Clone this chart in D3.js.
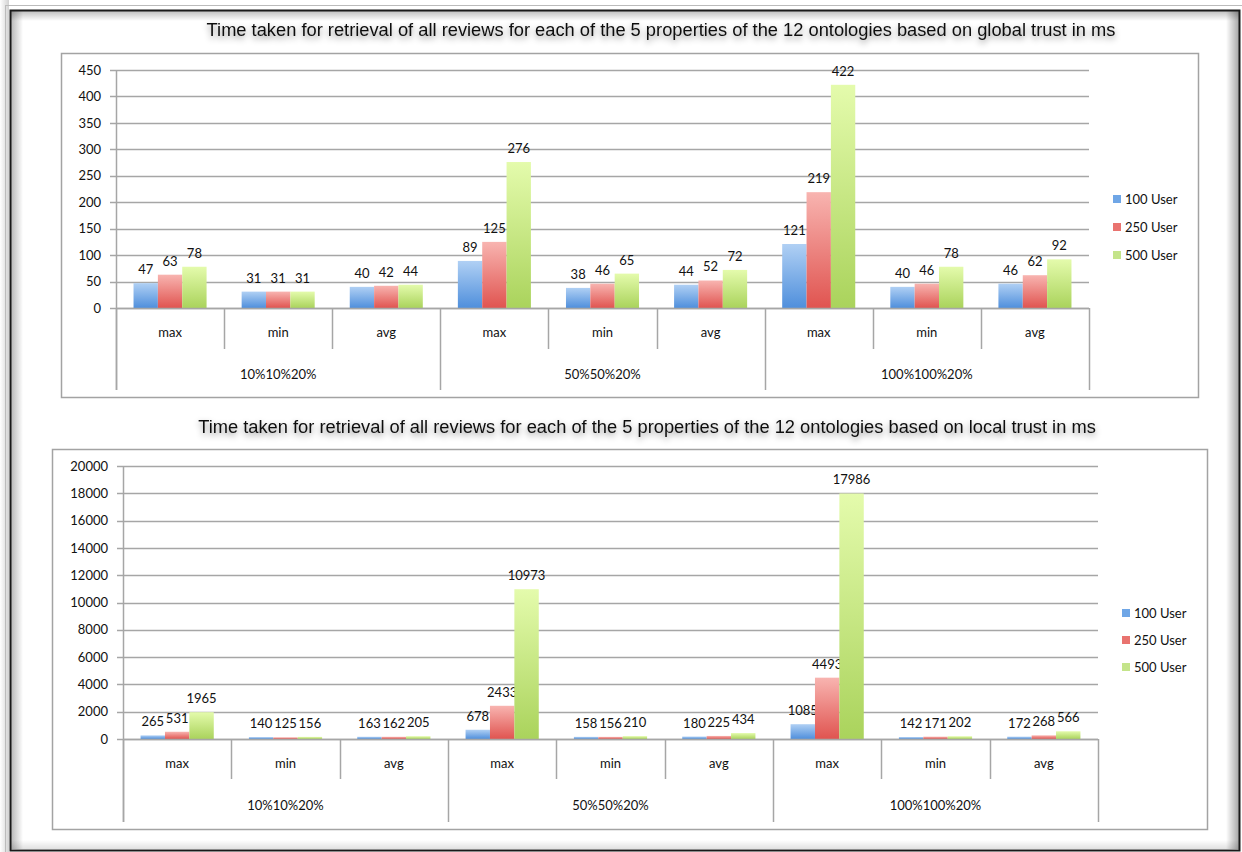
<!DOCTYPE html>
<html><head><meta charset="utf-8">
<script src="https://cdn.jsdelivr.net/npm/d3@7"></script>
<style>
html,body{margin:0;padding:0;background:#fff;}
svg{display:block;}
</style></head>
<body>
<svg id="c" width="1242" height="852"></svg>
<script>
// ---- data ----
const categories = ["max","min","avg","max","min","avg","max","min","avg"];
const groups = ["10%10%20%","50%50%20%","100%100%20%"];
const seriesNames = ["100 User","250 User","500 User"];

const globalTitle = "Time taken for retrieval of all reviews for each of the 5 properties of the 12 ontologies based on global trust in ms";
const global100 = [47,31,40,89,38,44,121,40,46];
const global250 = [63,31,42,125,46,52,219,46,62];
const global500 = [78,31,44,276,65,72,422,78,92];
const globalTicks = [0,50,100,150,200,250,300,350,400,450];

const localTitle = "Time taken for retrieval of all reviews for each of the 5 properties of the 12 ontologies based on local trust in ms";
const local100 = [265,140,163,678,158,180,1085,142,172];
const local250 = [531,125,162,2433,156,225,4493,171,268];
const local500 = [1965,156,205,10973,210,434,17986,202,566];
const localTicks = [0,2000,4000,6000,8000,10000,12000,14000,16000,18000,20000];

const svg = d3.select("#c");
const defs = svg.append("defs");
const grads = [["gBlue","#b0d0f4","#4f8fdc"],["gRed","#f8b4b0","#e05450"],["gGreen","#e4fbac","#aad35c"]];
grads.forEach(([id,a,b])=>{
  const g = defs.append("linearGradient").attr("id",id).attr("x1",0).attr("y1",0).attr("x2",0).attr("y2",1);
  g.append("stop").attr("offset","0%").attr("stop-color",a);
  g.append("stop").attr("offset","100%").attr("stop-color",b);
});
const legendColors = ["#6fa6e6","#e9736f","#c4e48a"];
const f = defs.append("filter").attr("id","tshadow").attr("x","-10%").attr("y","-60%").attr("width","120%").attr("height","260%");
f.append("feDropShadow").attr("dx",0).attr("dy",3).attr("stdDeviation",3).attr("flood-color","#000").attr("flood-opacity",0.45);

// frame shadows
function band(id,x1,y1,x2,y2,rx,ry,w,h,op){
  const g = defs.append("linearGradient").attr("id",id).attr("x1",x1).attr("y1",y1).attr("x2",x2).attr("y2",y2);
  g.append("stop").attr("offset","0%").attr("stop-color","#000").attr("stop-opacity",op);
  g.append("stop").attr("offset","100%").attr("stop-color","#000").attr("stop-opacity",0);
  svg.append("rect").attr("x",rx).attr("y",ry).attr("width",w).attr("height",h).attr("fill",`url(#${id})`);
}
band("bl",0,0,1,0,11,11,12,838,0.28);
band("bt",0,0,0,1,11,11,1228,10,0.25);
band("br",1,0,0,0,1226,11,13,838,0.35);
band("bb",0,1,0,0,11,840,1228,9,0.12);
band("ol",1,0,0,0,0,0,9,852,0.18);
svg.append("rect").attr("x",5.5).attr("y",5.5).attr("width",1240).attr("height",850).attr("fill","none").attr("stroke","#bbb").attr("stroke-width",1);
svg.append("rect").attr("x",10.5).attr("y",10.5).attr("width",1229).attr("height",840).attr("fill","none").attr("stroke","#1a1a1a").attr("stroke-width",2);

function drawChart(o){
  const g = svg.append("g");
  // outer box
  g.append("rect").attr("x",o.box[0]+0.5).attr("y",o.box[1]+0.5).attr("width",o.box[2]).attr("height",o.box[3])
    .attr("fill","none").attr("stroke","#a3a3a3").attr("stroke-width",1.5);
  // title
  g.append("text").attr("x",o.titleX).attr("y",o.titleY).attr("text-anchor","middle")
    .attr("font-family","Liberation Sans, Arial, sans-serif").attr("font-size",18.3).attr("fill","#111")
    .attr("filter","url(#tshadow)").text(o.title);

  const y = d3.scaleLinear().domain([o.ticks[0],o.ticks[o.ticks.length-1]]).range([o.y0,o.y1]);
  const x = d3.scaleBand().domain(d3.range(categories.length)).range([o.x0,o.x1]).paddingInner(0).paddingOuter(0);
  const xs = d3.scaleBand().domain(d3.range(3)).range([0,x.bandwidth()]).paddingOuter(0.72).paddingInner(0);

  // grid
  g.append("g").selectAll("line").data(o.ticks).join("line")
    .attr("x1",o.x0-6).attr("x2",o.x1).attr("y1",d=>Math.round(y(d))+0.5).attr("y2",d=>Math.round(y(d))+0.5)
    .attr("stroke","#a6a6a6").attr("stroke-width",1.5);
  // y axis
  const ax = g.append("g").attr("transform",`translate(${o.x0},0)`)
    .call(d3.axisLeft(y).tickValues(o.ticks).tickSize(0).tickPadding(15).tickFormat(d3.format("d")));
  ax.select(".domain").remove();
  ax.selectAll("text").attr("font-family","Lato, Carlito, sans-serif").attr("font-size",13).attr("fill","#111");
  g.append("line").attr("x1",o.x0+0.5).attr("x2",o.x0+0.5).attr("y1",y(o.ticks[o.ticks.length-1])).attr("y2",o.groupBottom)
    .attr("stroke","#a6a6a6").attr("stroke-width",1.5);

  // bars
  const series = o.series;
  series.forEach((vals,si)=>{
    g.append("g").selectAll("rect").data(vals).join("rect")
      .attr("x",(d,i)=>x(i)+xs(si)).attr("width",xs.bandwidth())
      .attr("y",d=>y(d)).attr("height",d=>y(0)-y(d))
      .attr("fill",`url(#${grads[si][0]})`);
    g.append("g").selectAll("text").data(vals).join("text")
      .attr("x",(d,i)=>x(i)+xs(si)+xs.bandwidth()/2).attr("y",d=>y(d)-9)
      .attr("text-anchor","middle").attr("font-family","Lato, Carlito, sans-serif").attr("font-size",13).attr("fill","#111")
      .text(d=>d);
  });

  // category dividers
  const bounds = d3.range(categories.length+1).map(i=> i<categories.length ? x(i) : o.x1);
  g.append("g").selectAll("line").data(bounds).join("line")
    .attr("x1",d=>Math.round(d)+0.5).attr("x2",d=>Math.round(d)+0.5)
    .attr("y1",o.y0).attr("y2",(d,i)=> i%3===0 ? o.groupBottom : o.catBottom)
    .attr("stroke","#a6a6a6").attr("stroke-width",1.5);
  // x baseline
  g.append("line").attr("x1",o.x0).attr("x2",o.x1).attr("y1",Math.round(o.y0)+0.5).attr("y2",Math.round(o.y0)+0.5)
    .attr("stroke","#a6a6a6").attr("stroke-width",1.5);
  g.append("g").selectAll("text").data(categories).join("text")
    .attr("x",(d,i)=>x(i)+x.bandwidth()/2).attr("y",o.catY).attr("text-anchor","middle")
    .attr("font-family","Lato, Carlito, sans-serif").attr("font-size",13).attr("fill","#111").text(d=>d);
  g.append("g").selectAll("text").data(groups).join("text")
    .attr("x",(d,i)=>(x(i*3)+bounds[i*3+3])/2).attr("y",o.groupY).attr("text-anchor","middle")
    .attr("font-family","Lato, Carlito, sans-serif").attr("font-size",13).attr("fill","#111").text(d=>d);

  // legend
  const lg = g.append("g");
  seriesNames.forEach((n,i)=>{
    lg.append("rect").attr("x",o.legX).attr("y",o.legY+i*o.legStep-4).attr("width",8).attr("height",8).attr("fill",legendColors[i]);
    lg.append("text").attr("x",o.legX+12).attr("y",o.legY+i*o.legStep+5)
      .attr("font-family","Lato, Carlito, sans-serif").attr("font-size",13).attr("fill","#111").text(n);
  });
}

drawChart({title:globalTitle,titleX:661,titleY:36,box:[61,53,1137,344],
  x0:116,x1:1089,y0:308,y1:70,ticks:globalTicks,series:[global100,global250,global500],
  catBottom:349,groupBottom:390,catY:337,groupY:379,legX:1113,legY:199,legStep:28});
drawChart({title:localTitle,titleX:647,titleY:433,box:[52,449,1155,380],
  x0:123,x1:1098,y0:739,y1:466,ticks:localTicks,series:[local100,local250,local500],
  catBottom:779,groupBottom:822,catY:768,groupY:810,legX:1122,legY:613,legStep:27});
</script>
</body></html>
